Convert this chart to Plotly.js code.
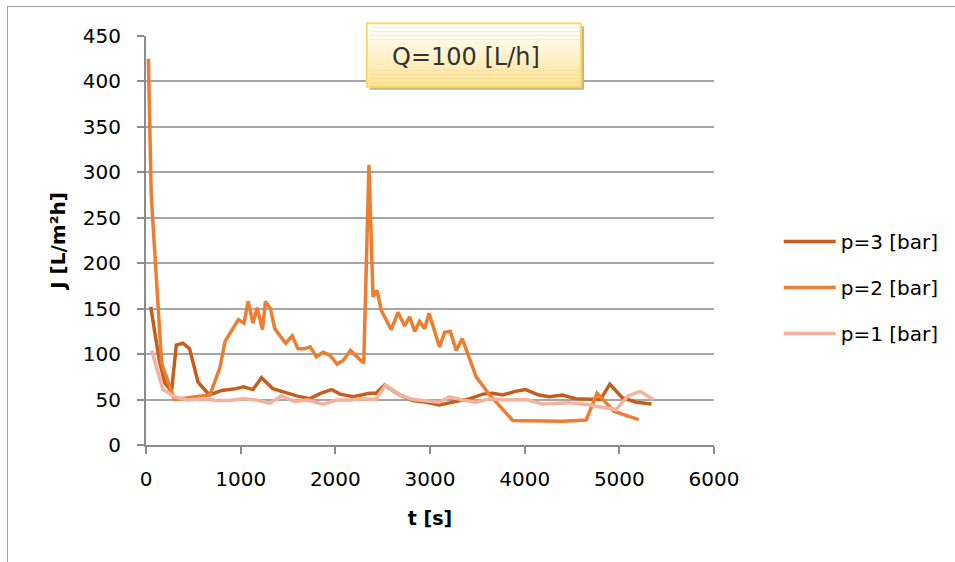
<!DOCTYPE html>
<html>
<head>
<meta charset="utf-8">
<script src="https://cdn.plot.ly/plotly-3.0.1.min.js"></script>
<style>
  html, body { margin: 0; padding: 0; background: #ffffff; }
  #wrap { position: relative; width: 955px; height: 562px; overflow: hidden; }
  #chart { width: 955px; height: 562px; }
  #frame { position: absolute; left: 7px; top: 6px; width: 1000px; height: 600px;
           border-left: 1px solid #a0a0a0; border-top: 1px solid #a0a0a0; pointer-events: none; }
</style>
</head>
<body>
<div id="wrap">
  <div id="chart"></div>
  <div id="frame"></div>
</div>
<script>
// ---- data ----
const seriesNames = ["p=3 [bar]", "p=2 [bar]", "p=1 [bar]"];

const p3_t = [50, 140, 200, 270, 320, 390, 460, 550, 670, 800, 955, 1030, 1130, 1220, 1340, 1480, 1590, 1730, 1850, 1960, 2050, 2190, 2360, 2430, 2520, 2680, 2820, 2960, 3100, 3280, 3420, 3560, 3660, 3770, 3900, 4010, 4150, 4260, 4400, 4540, 4680, 4800, 4900, 5030, 5180, 5340];
const p3_J = [152, 93, 68, 59, 110, 112, 106, 69, 55, 60, 62, 64, 61, 74, 62, 57, 54, 51, 57, 61, 56, 53, 57, 57, 66, 55, 49, 47, 44, 48, 51, 56, 57, 55, 59, 61, 55, 53, 55, 51, 50, 50, 67, 52, 47, 45];

const p2_t = [25, 55, 165, 270, 300, 675, 780, 835, 885, 975, 1035, 1080, 1130, 1175, 1230, 1262, 1315, 1360, 1475, 1545, 1605, 1675, 1735, 1800, 1870, 1940, 2018, 2082, 2160, 2300, 2355, 2398, 2440, 2486, 2590, 2662, 2732, 2785, 2838, 2890, 2943, 2990, 3100, 3155, 3215, 3277, 3340, 3488, 3630, 3875, 4400, 4650, 4765, 4945, 5205];
const p2_J = [425, 275, 90, 60, 50, 55, 85, 114, 123, 138, 134, 158, 134, 151, 127, 158, 150, 128, 112, 120, 106, 106, 108, 97, 102, 99, 89, 93, 104, 90, 308, 163, 170, 148, 127, 146, 131, 141, 125, 136, 128, 145, 108, 124, 125, 104, 117, 75, 55, 27, 26, 27.5, 57, 37, 28];

const p1_t = [60, 180, 305, 445, 585, 745, 885, 1025, 1165, 1310, 1430, 1570, 1710, 1870, 2010, 2150, 2295, 2425, 2530, 2680, 2820, 3000, 3100, 3205, 3345, 3490, 3630, 3770, 4015, 4190, 4470, 4650, 4790, 4965, 5090, 5220, 5360];
const p1_J = [104, 61, 53, 49.5, 51, 49, 49, 51, 49.5, 46, 54, 48, 49.5, 45, 49.5, 49.5, 51, 50, 66, 55, 50, 48, 47, 53, 49.5, 47, 51, 49.5, 50, 45, 46.5, 44.5, 42, 39, 54, 59, 50];

const xTickVals = [0, 1000, 2000, 3000, 4000, 5000, 6000];
const yTickVals = [0, 50, 100, 150, 200, 250, 300, 350, 400, 450];
const xTitle = "t [s]";
const yTitle = "J [L/m²h]";
const boxLabel = "Q=100 [L/h]";

// ---- styling ----
const colors = ["#C55E1C", "#ED7D31", "#F2B29B"];
const FONT = "DejaVu Sans, Verdana, sans-serif";

const xs = [p3_t, p2_t, p1_t];
const ys = [p3_J, p2_J, p1_J];

const traces = seriesNames.map((name, i) => ({
  type: "scatter",
  mode: "lines",
  name: name,
  x: xs[i],
  y: ys[i],
  legendgroup: "g" + i,
  line: { color: colors[i], width: 3.5 },
  hoverinfo: "skip"
}));

// Box (annotation) geometry in paper coords
const bx0 = 0.3889, bx1 = 0.7657, by0 = 0.8760, by1 = 1.0311;
const shapes = [];
// shadow
shapes.push({ type: "rect", xref: "paper", yref: "paper",
  x0: bx0 + 0.0055, x1: bx1 + 0.0055, y0: by0 - 0.0075, y1: by1 - 0.0075,
  fillcolor: "#C8B684", line: { width: 0 }, layer: "above" });
// gradient bands
const nb = 16;
for (let k = 0; k < nb; k++) {
  const f = k / (nb - 1);            // 0 top -> 1 bottom
  const r = 255, g = Math.round(255 - f * (255 - 228)), b = Math.round(255 - f * (255 - 150));
  const yt = by1 - (by1 - by0) * k / nb;
  const yb = by1 - (by1 - by0) * (k + 1) / nb;
  shapes.push({ type: "rect", xref: "paper", yref: "paper",
    x0: bx0, x1: bx1, y0: yb, y1: yt,
    fillcolor: `rgb(${r},${g},${b})`, line: { width: 0 }, layer: "above" });
}
// border
shapes.push({ type: "rect", xref: "paper", yref: "paper",
  x0: bx0, x1: bx1, y0: by0, y1: by1,
  fillcolor: "rgba(0,0,0,0)", line: { color: "#FFD966", width: 2 }, layer: "above" });

const layout = {
  width: 955,
  height: 562,
  margin: { l: 146, r: 240, t: 36, b: 117 },
  paper_bgcolor: "#ffffff",
  plot_bgcolor: "#ffffff",
  font: { family: FONT, size: 20, color: "#000000" },
  showlegend: true,
  legend: {
    x: 1.112, xanchor: "left",
    y: 0.385, yanchor: "middle",
    traceorder: "grouped",
    tracegroupgap: 17,
    itemwidth: 52,
    font: { family: FONT, size: 20, color: "#000000" },
    bgcolor: "rgba(0,0,0,0)"
  },
  xaxis: {
    range: [0, 6000],
    tickmode: "array",
    tickvals: xTickVals,
    ticktext: xTickVals.map(String),
    showgrid: false,
    zeroline: false,
    showline: true,
    linecolor: "#8c8c8c",
    linewidth: 2,
    ticks: "outside",
    ticklen: 7,
    tickwidth: 2,
    tickcolor: "#8c8c8c",
    ticklabelstandoff: 8,
    tickfont: { family: FONT, size: 20, color: "#000000" },
    title: { text: "<b>" + xTitle + "</b>", font: { family: FONT, size: 19, color: "#000000" }, standoff: 22 }
  },
  yaxis: {
    range: [0, 450],
    tickmode: "array",
    tickvals: yTickVals,
    ticktext: yTickVals.map(String),
    showgrid: true,
    gridcolor: "#a6a6a6",
    gridwidth: 2,
    zeroline: false,
    showline: true,
    linecolor: "#8c8c8c",
    linewidth: 2,
    ticks: "outside",
    ticklen: 7,
    tickwidth: 2,
    tickcolor: "#8c8c8c",
    ticklabelstandoff: 12,
    tickfont: { family: FONT, size: 20, color: "#000000" },
    title: { text: "<b>" + yTitle + "</b>", font: { family: FONT, size: 20, color: "#000000" }, standoff: 12 }
  },
  shapes: shapes,
  annotations: [{
    xref: "paper", yref: "paper",
    x: 0.4288, y: 0.948, xanchor: "left", yanchor: "middle",
    text: boxLabel, showarrow: false,
    font: { family: FONT, size: 24, color: "#333333" }
  }]
};

Plotly.newPlot("chart", traces, layout, { displayModeBar: false, staticPlot: true });
</script>
</body>
</html>
